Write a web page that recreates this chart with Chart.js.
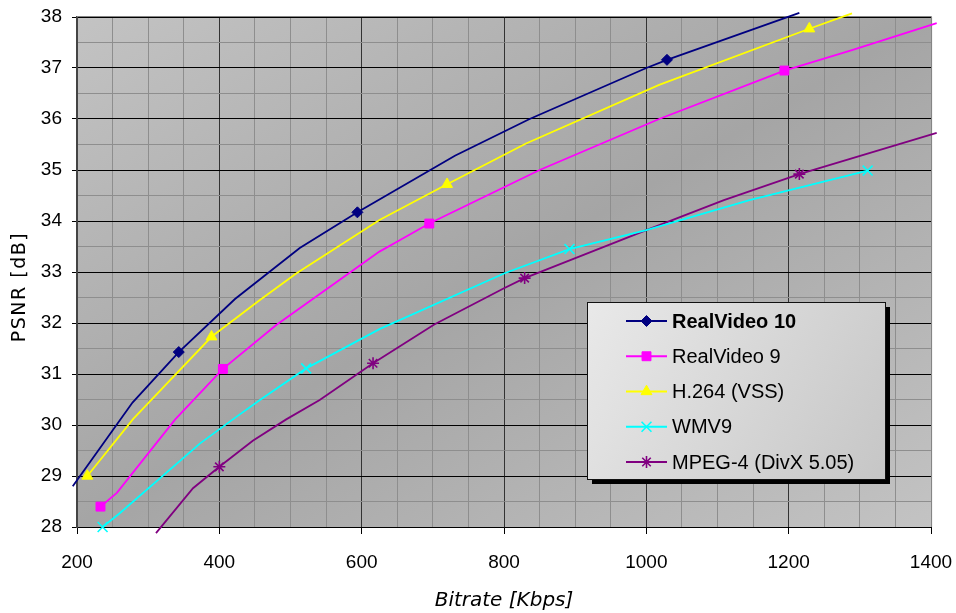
<!DOCTYPE html>
<html>
<head>
<meta charset="utf-8">
<script src="https://cdn.jsdelivr.net/npm/chart.js@4.4.0/dist/chart.umd.min.js"></script>
<style>
  html, body { margin: 0; padding: 0; background: #fff; }
</style>
</head>
<body>
<canvas id="psnrChart" width="956" height="613"></canvas>
<script>
// ── Data ──────────────────────────────────────────────────
const xTicks = [200, 400, 600, 800, 1000, 1200, 1400]
const yTicks = [28, 29, 30, 31, 32, 33, 34, 35, 36, 37, 38]

const rv10Kbps  = [194, 278, 343, 422, 513, 594, 731, 836, 1000, 1029, 1215]
const rv10Psnr  = [28.80, 30.44, 31.43, 32.47, 33.47, 34.17, 35.28, 36.00, 37.00, 37.16, 38.08]
const rv10Marks = [343, 594, 1029]

const rv9Kbps   = [233, 256, 338, 405, 480, 625, 649, 695, 850, 1018, 1194, 1289, 1408]
const rv9Psnr   = [28.40, 28.67, 30.11, 31.10, 31.96, 33.40, 33.59, 33.95, 35.00, 36.00, 36.95, 37.35, 37.88]
const rv9Marks  = [233, 405, 695, 1194]

const h264Kbps  = [214.5, 279, 389, 457, 508, 625, 720, 831, 1018, 1229, 1289]
const h264Psnr  = [29.00, 30.12, 31.73, 32.45, 32.97, 34.02, 34.72, 35.52, 36.67, 37.77, 38.07]
const h264Marks = [214.5, 389, 720, 1229]

const wmvKbps   = [236, 260, 373, 419, 457, 522, 625, 800, 892, 1000, 1145, 1311]
const wmvPsnr   = [28.00, 28.27, 29.64, 30.11, 30.49, 31.11, 31.88, 32.97, 33.45, 33.82, 34.41, 34.99]
const wmvMarks  = [236, 522, 892, 1311]

const mpegKbps  = [311, 363, 400, 447, 494, 541, 616, 702, 800, 829, 1000, 1109, 1215, 1408]
const mpegPsnr  = [27.88, 28.76, 29.18, 29.69, 30.11, 30.49, 31.21, 31.97, 32.68, 32.88, 33.82, 34.41, 34.92, 35.73]
const mpegMarks = [400, 616, 829, 1215]

const TICK_FONT = '"Liberation Sans", Arial, sans-serif'

function mkSeries(label, kbps, psnr, marks, color, style, radius, filled) {
  return {
    label,
    data: kbps.map((x, i) => ({ x, y: psnr[i] })),
    borderColor: color,
    borderWidth: 1.8,
    backgroundColor: color,
    pointStyle: style,
    pointBackgroundColor: filled ? color : 'rgba(0,0,0,0)',
    pointBorderColor: color,
    pointBorderWidth: filled ? 1 : 1.6,
    pointRadius: c => marks.includes(c.raw.x) ? radius : 0,
    tension: 0,
    clip: 10,
    _legendRadius: radius,
    _filled: filled,
  }
}

// ── Plugins: background, frame, legend, axis titles ───────
const backdrop = {
  id: 'backdrop',
  beforeDraw(chart) {
    const { ctx, chartArea: a } = chart
    ctx.save()
    ctx.fillStyle = '#fff'
    ctx.fillRect(0, 0, chart.width, chart.height)
    ctx.translate(a.left, a.top)
    ctx.scale(a.right - a.left, a.bottom - a.top)
    const g = ctx.createLinearGradient(0, 0, 1, 1)
    g.addColorStop(0, '#c3c3c3')
    g.addColorStop(0.5, '#a5a5a5')
    g.addColorStop(1, '#c3c3c3')
    ctx.fillStyle = g
    ctx.fillRect(0, 0, 1, 1)
    ctx.restore()
  },
  beforeDatasetsDraw(chart) {
    const { ctx, chartArea: a } = chart
    ctx.save()
    ctx.strokeStyle = '#858585'
    ctx.lineWidth = 1
    ctx.beginPath()
    ctx.moveTo(a.left, a.top - 0.5)
    ctx.lineTo(a.right + 0.5, a.top - 0.5)
    ctx.lineTo(a.right + 0.5, a.bottom)
    ctx.stroke()
    ctx.strokeStyle = '#f4f4f4'
    ctx.beginPath()
    ctx.moveTo(a.right + 1.5, a.top)
    ctx.lineTo(a.right + 1.5, a.bottom)
    ctx.stroke()
    ctx.restore()
  }
}

const boxLegend = {
  id: 'boxLegend',
  afterDatasetsDraw(chart) {
    const { ctx } = chart
    const bx = 587, by = 302, bw = 298, bh = 177, sh = 5
    ctx.save()
    ctx.fillStyle = '#000'
    ctx.fillRect(bx + sh, by + sh, bw, bh)
    const g = ctx.createLinearGradient(bx, by, bx + bw, by + bh)
    g.addColorStop(0, '#e9e9e9')
    g.addColorStop(1, '#c6c6c6')
    ctx.fillStyle = g
    ctx.fillRect(bx, by, bw, bh)
    ctx.strokeStyle = '#111'
    ctx.lineWidth = 1
    ctx.strokeRect(bx + 0.5, by + 0.5, bw, bh)

    chart.data.datasets.forEach((ds, i) => {
      const y = 321 + i * 35.25
      ctx.strokeStyle = ds.borderColor
      ctx.lineWidth = 2
      ctx.beginPath()
      ctx.moveTo(626, y)
      ctx.lineTo(667, y)
      ctx.stroke()
      ctx.fillStyle = ds._filled ? ds.borderColor : 'rgba(0,0,0,0)'
      ctx.lineWidth = ds._filled ? 1 : 1.6
      Chart.helpers.drawPoint(ctx, { pointStyle: ds.pointStyle, radius: ds._legendRadius, borderWidth: ctx.lineWidth, rotation: 0 }, 646.5, y)
      ctx.fillStyle = '#000'
      ctx.font = (i === 0 ? 'bold ' : '') + '20px ' + TICK_FONT
      ctx.textBaseline = 'middle'
      ctx.textAlign = 'left'
      ctx.fillText(ds.label, 672, y + 1)
    })
    ctx.restore()
  }
}

const axisTitles = {
  id: 'axisTitles',
  afterDraw(chart) {
    const { ctx } = chart
    ctx.save()
    ctx.fillStyle = '#000'
    ctx.textAlign = 'center'
    ctx.textBaseline = 'middle'
    ctx.font = '19px "DejaVu Sans", sans-serif'
    ctx.letterSpacing = '1.5px'
    ctx.translate(20, 287)
    ctx.rotate(-Math.PI / 2)
    ctx.fillText('PSNR [dB]', 0, 0)
    ctx.restore()

    ctx.save()
    ctx.fillStyle = '#000'
    ctx.textAlign = 'center'
    ctx.textBaseline = 'middle'
    ctx.font = 'italic 20px "DejaVu Sans", sans-serif'
    ctx.fillText('Bitrate [Kbps]', 504, 601)
    ctx.restore()
  }
}

// ── Chart ─────────────────────────────────────────────────
/* global Chart */
new Chart(document.getElementById('psnrChart'), {
  type: 'line',
  data: {
    datasets: [
      mkSeries('RealVideo 10', rv10Kbps, rv10Psnr, rv10Marks, '#000080', 'rectRot', 5.5, true),
      mkSeries('RealVideo 9', rv9Kbps, rv9Psnr, rv9Marks, '#ff00ff', 'rect', 6.3, true),
      mkSeries('H.264 (VSS)', h264Kbps, h264Psnr, h264Marks, '#ffff00', 'triangle', 6.3, true),
      mkSeries('WMV9', wmvKbps, wmvPsnr, wmvMarks, '#00ffff', 'crossRot', 7, false),
      mkSeries('MPEG-4 (DivX 5.05)', mpegKbps, mpegPsnr, mpegMarks, '#800080', 'star', 6, false),
    ]
  },
  options: {
    responsive: false,
    animation: false,
    events: [],
    layout: { padding: { top: 17, right: 25, left: 0, bottom: 0 } },
    plugins: { legend: { display: false }, tooltip: { enabled: false } },
    scales: {
      x: {
        type: 'linear', min: xTicks[0], max: xTicks[xTicks.length - 1],
        ticks: {
          stepSize: 50, autoSkip: false, maxRotation: 0, padding: 17, color: '#000',
          font: { family: TICK_FONT, size: 19 },
          callback: v => xTicks.includes(v) ? v : ''
        },
        grid: {
          color: c => c.tick && xTicks.includes(c.tick.value) ? '#333' : '#8e8e8e',
          tickColor: c => c.tick && xTicks.includes(c.tick.value) ? '#000' : 'rgba(0,0,0,0)',
          tickLength: 7, lineWidth: 1
        },
        border: { color: '#000', width: 1 },
        afterFit: s => { s.height = 86; s.paddingLeft = 0; s.paddingRight = 0 }
      },
      y: {
        min: yTicks[0], max: yTicks[yTicks.length - 1],
        ticks: {
          stepSize: 0.5, autoSkip: false, padding: 10, color: '#000',
          font: { family: TICK_FONT, size: 19 },
          callback: v => yTicks.includes(v) ? v : ''
        },
        grid: {
          color: c => c.tick && yTicks.includes(c.tick.value) ? '#000' : '#8e8e8e',
          tickColor: c => c.tick && yTicks.includes(c.tick.value) ? '#000' : 'rgba(0,0,0,0)',
          tickLength: 5, lineWidth: 1
        },
        border: { color: '#444', width: 2 },
        afterFit: s => { s.width = 77; s.paddingTop = 0; s.paddingBottom = 0 }
      }
    }
  },
  plugins: [backdrop, boxLegend, axisTitles]
})
</script>
</body>
</html>
